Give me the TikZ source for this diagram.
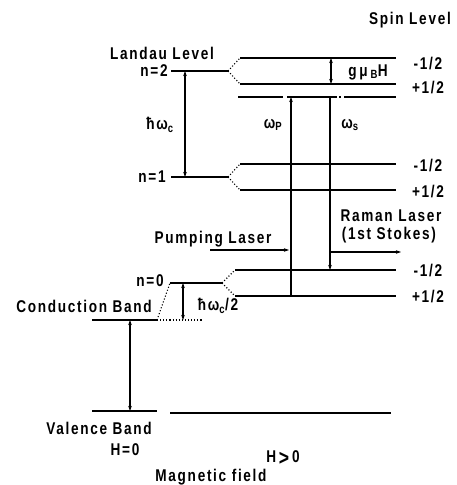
\documentclass[tikz,border=0pt]{standalone}
\usepackage{fontspec}
\setmainfont{Liberation Sans}[FakeStretch=0.8, LetterSpace=10]
\usetikzlibrary{arrows.meta}
\begin{document}
\begin{tikzpicture}[x=1pt,y=-1pt,
  lvl/.style={line width=1.3pt},
  splitln/.style={line width=1.1pt, dotted},
  dbl/.style={line width=1.3pt, {Stealth[length=5pt,width=3.5pt]}-{Stealth[length=5pt,width=3.5pt]}},
  sgl/.style={line width=1.3pt, -{Stealth[length=5pt,width=3.5pt]}},
  lab/.style={font=\bfseries\fontsize{17}{19}\selectfont, inner sep=0pt},
]
\useasboundingbox (0,0) rectangle (456,485);
% ---- level coordinates
\coordinate (n2a) at (171,71);  \coordinate (n2b) at (228,71);
\coordinate (n2ua) at (240,58); \coordinate (n2ub) at (396,58);
\coordinate (n2la) at (240,84); \coordinate (n2lb) at (396,84);
\coordinate (va) at (238,97);   \coordinate (vb) at (396,97);
\coordinate (n1a) at (171,177); \coordinate (n1b) at (228,177);
\coordinate (n1ua) at (240,164); \coordinate (n1ub) at (396,164);
\coordinate (n1la) at (240,190); \coordinate (n1lb) at (396,190);
\coordinate (n0a) at (170,283); \coordinate (n0b) at (222,283);
\coordinate (n0ua) at (235,270); \coordinate (n0ub) at (396,270);
\coordinate (n0la) at (235,296); \coordinate (n0lb) at (396,296);
\coordinate (cba) at (92,320);  \coordinate (cbb) at (157,320); \coordinate (cbd) at (203,320);
\coordinate (vba) at (92,411);  \coordinate (vbb) at (157,411);
\coordinate (vbc) at (170,413); \coordinate (vbd) at (391,413);
% ---- levels
\draw[lvl] (n2a) -- (n2b);
\draw[splitln] (n2b) -- (n2ua); \draw[splitln] (n2b) -- (n2la);
\draw[lvl] (n2ua) -- (n2ub); \draw[lvl] (n2la) -- (n2lb);
\draw[lvl, dash pattern=on 45pt off 4pt on 50pt off 2pt on 2pt off 3pt on 60pt] (va) -- (vb);
\draw[lvl] (n1a) -- (n1b);
\draw[splitln] (n1b) -- (n1ua); \draw[splitln] (n1b) -- (n1la);
\draw[lvl] (n1ua) -- (n1ub); \draw[lvl] (n1la) -- (n1lb);
\draw[lvl] (n0a) -- (n0b);
\draw[splitln] (n0b) -- (n0ua); \draw[splitln] (n0b) -- (n0la);
\draw[lvl] (n0ua) -- (n0ub); \draw[lvl] (n0la) -- (n0lb);
\draw[lvl] (cba) -- (cbb);
\draw[splitln] (cbb) -- (cbd);
\draw[splitln] (cbb) -- (n0a);
\draw[lvl] (vba) -- (vbb);
\draw[lvl] (vbc) -- (vbd);
% ---- arrow end coordinates
\coordinate (hw2t) at (185,71);  \coordinate (hw2b) at (185,177);
\coordinate (gt) at (331,58);    \coordinate (gb) at (331,84);
\coordinate (wpb) at (291,296);  \coordinate (wpt) at (291,97);
\coordinate (wst) at (330,97);   \coordinate (wsb) at (330,270);
\coordinate (hhalft) at (183,283); \coordinate (hhalfb) at (183,320);
\coordinate (gapt) at (130,320); \coordinate (gapb) at (130,411);
\coordinate (pumps) at (210,250); \coordinate (pumpe) at (289,250);
\coordinate (ramans) at (331,252); \coordinate (ramane) at (401,252);
% ---- arrows
\draw[dbl] (hw2t) -- (hw2b);
\draw[dbl] (gt) -- (gb);
\draw[sgl] (wpb) -- (wpt);
\draw[sgl] (wst) -- (wsb);
\draw[dbl] (hhalft) -- (hhalfb);
\draw[dbl] (gapt) -- (gapb);
\draw[sgl] (pumps) -- (pumpe);
\draw[sgl] (ramans) -- (ramane);
% ---- labels
\node[lab] (spin) at (410,20) {Spin Level};
\node[lab] (landau) at (162,53) {Landau Level};
\node[lab] (ln2) at (154,71) {n=2};
\node[lab] (ln1) at (152,177) {n=1};
\node[lab] (ln0) at (150,281) {n=0};
\node[lab] (lhw) at (160,125) {ħω\textsubscript{c}};
\node[lab] (lwp) at (273,125) {ω\textsubscript{P}};
\node[lab] (lws) at (350,125) {ω\textsubscript{s}};
\node[lab] (lg) at (368,72) {g\,μ\,\textsubscript{B}H};
\node[lab] (s1) at (428,64) {-1/2};
\node[lab] (s2) at (428,88) {+1/2};
\node[lab] (s3) at (428,166) {-1/2};
\node[lab] (s4) at (428,192) {+1/2};
\node[lab] (s5) at (428,271) {-1/2};
\node[lab] (s6) at (428,297) {+1/2};
\node[lab] (raman) at (391,216) {Raman Laser};
\node[lab] (stokes) at (389,235) {(1st Stokes)};
\node[lab] (pump) at (213,239) {Pumping Laser};
\node[lab] (cb) at (84,306) {Conduction Band};
\node[lab] (lhw2) at (218,306) {ħω\textsubscript{c}/2};
\node[lab] (vb) at (99,428) {Valence Band};
\node[lab] (h0) at (125,450) {H=0};
\node[lab] (hp) at (283,457) {H\,\raisebox{-2.5pt}[0pt][0pt]{\fontsize{22}{22}\selectfont\textgreater}\,0};
\node[lab] (mf) at (211,477) {Magnetic field};
\end{tikzpicture}
\end{document}
